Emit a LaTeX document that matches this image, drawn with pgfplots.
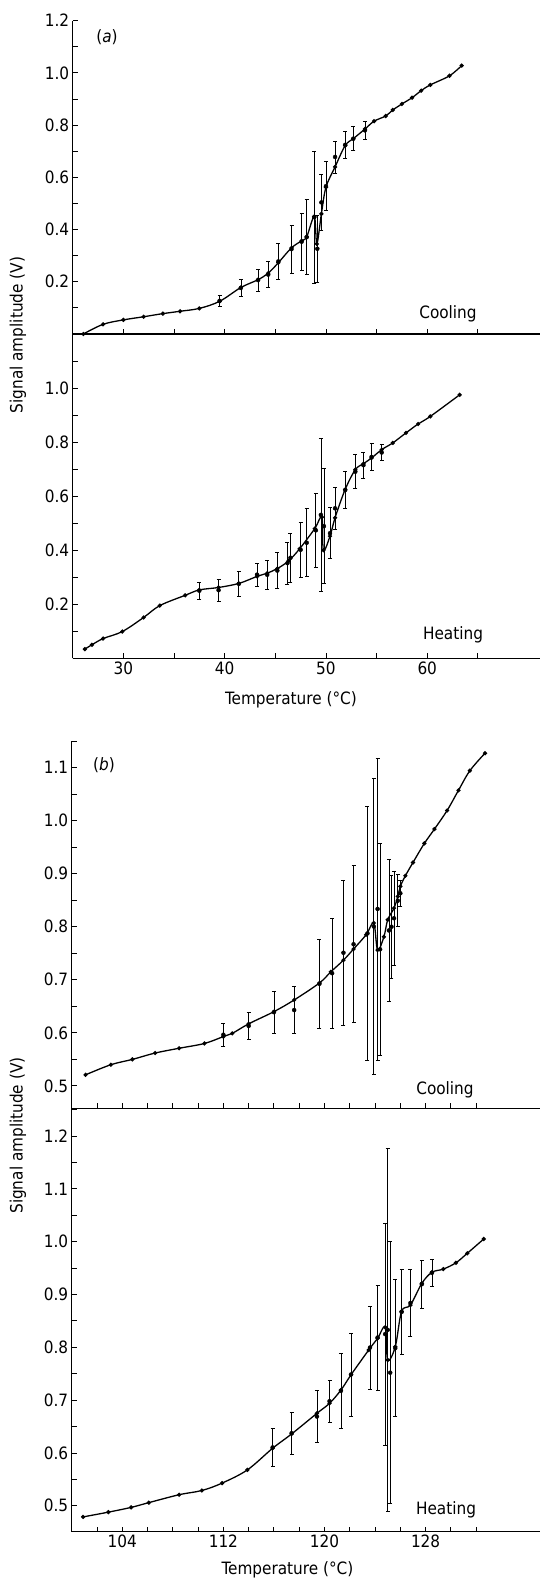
\documentclass[border=0pt]{standalone}
\usepackage{fontspec}
\setmainfont{DejaVu Sans Condensed}
\usepackage{pgfplots}
\usepackage{pgfplotstable}
\pgfplotsset{compat=1.18}

% ---------- (a) cooling ----------
\pgfplotstableread{
x y
26.05 0.0
28.0 0.037
30.0 0.054
32.0 0.066
33.9 0.078
35.6 0.087
37.5 0.098
39.5 0.125
41.6 0.178
43.3 0.208
44.3 0.233
45.3 0.273
46.6 0.33
47.6 0.357
48.1 0.372
48.85 0.45
49.1 0.345
49.55 0.46
50.0 0.562
50.9 0.64
51.9 0.722
52.7 0.748
53.85 0.785
54.75 0.815
55.9 0.835
56.6 0.858
57.5 0.881
58.5 0.905
59.4 0.932
60.3 0.954
62.2 0.989
63.4 1.028
}\acool
\pgfplotstableread{
x lo hi
39.5 0.105 0.149
41.6 0.144 0.209
43.3 0.164 0.249
44.3 0.178 0.277
45.3 0.209 0.347
46.6 0.232 0.418
47.6 0.245 0.462
48.1 0.228 0.514
48.85 0.195 0.70
49.15 0.198 0.455
49.55 0.397 0.611
50.0 0.472 0.66
50.9 0.617 0.739
51.9 0.671 0.778
52.7 0.702 0.794
53.85 0.745 0.815
}\acoolerr

% ---------- (a) heating ----------
\pgfplotstableread{
x y
26.2 0.034
26.9 0.05
28.0 0.073
29.9 0.099
32.0 0.151
33.6 0.195
36.1 0.233
37.5 0.253
39.4 0.262
41.4 0.277
43.2 0.303
44.2 0.315
45.2 0.332
46.3 0.36
47.4 0.405
48.9 0.48
49.6 0.522
49.75 0.40
50.4 0.452
50.9 0.52
51.9 0.625
52.9 0.698
53.7 0.72
54.5 0.741
55.5 0.772
56.6 0.797
57.9 0.834
59.1 0.867
60.3 0.895
63.2 0.975
}\aheat
\pgfplotstableread{
x lo hi
37.5 0.218 0.282
39.4 0.212 0.292
41.4 0.228 0.323
43.2 0.268 0.351
44.2 0.255 0.363
45.2 0.258 0.391
46.2 0.274 0.43
46.5 0.282 0.462
47.5 0.301 0.502
48.1 0.302 0.553
49.0 0.335 0.612
49.5 0.249 0.812
49.8 0.277 0.701
50.4 0.369 0.557
50.9 0.477 0.633
51.9 0.553 0.692
52.9 0.627 0.754
53.7 0.667 0.762
54.5 0.696 0.794
55.5 0.733 0.79
}\aheaterr

% ---------- (b) cooling ----------
\pgfplotstableread{
x y
101.1 0.521
103.1 0.54
104.8 0.55
106.6 0.562
108.5 0.571
110.5 0.58
112.0 0.593
112.7 0.599
114.0 0.617
116.0 0.64
117.6 0.662
119.6 0.694
120.5 0.715
121.5 0.737
122.3 0.758
123.3 0.785
123.9 0.807
124.2 0.756
124.7 0.781
125.0 0.813
125.5 0.835
125.8 0.857
126.0 0.876
126.4 0.896
127.0 0.921
127.9 0.957
128.7 0.984
129.7 1.019
130.6 1.057
131.5 1.094
132.7 1.127
}\bcool
\pgfplotstableread{
x lo hi
112.0 0.575 0.618
114.0 0.587 0.639
116.0 0.599 0.679
117.6 0.599 0.687
119.6 0.609 0.776
120.6 0.609 0.816
121.5 0.615 0.887
122.3 0.619 0.915
123.4 0.549 1.026
123.9 0.521 1.08
124.2 0.549 1.118
124.4 0.558 0.957
125.1 0.659 0.927
125.3 0.703 0.897
125.5 0.728 0.904
125.8 0.80 0.898
126.0 0.838 0.888
}\bcoolerr

% ---------- (b) heating ----------
\pgfplotstableread{
x y
100.9 0.479
102.9 0.488
104.7 0.497
106.1 0.506
108.5 0.521
110.3 0.529
111.9 0.543
113.9 0.568
115.9 0.609
117.4 0.636
119.4 0.675
120.4 0.694
121.3 0.719
122.1 0.748
123.5 0.795
124.2 0.817
124.8 0.838
125.0 0.776
125.6 0.801
126.1 0.868
126.8 0.88
127.7 0.921
128.5 0.942
129.4 0.948
130.4 0.96
131.3 0.978
132.6 1.005
}\bheat
\pgfplotstableread{
x lo hi
115.9 0.574 0.647
117.4 0.598 0.677
119.4 0.62 0.718
120.4 0.658 0.738
121.3 0.647 0.788
122.1 0.67 0.827
123.6 0.721 0.878
124.2 0.719 0.918
124.8 0.615 1.035
125.0 0.489 1.177
125.2 0.504 1.0
125.6 0.669 0.928
126.1 0.786 0.948
126.8 0.82 0.948
127.7 0.874 0.965
128.5 0.915 0.967
}\bheaterr

\pgfplotsset{
  panel/.style={
    scale only axis, clip=false,
    axis x line*=bottom, axis y line*=left,
    tick align=inside,
    major tick length=5pt, minor tick length=5pt,
    axis line style={line width=1.4pt},
    every tick/.style={black, line width=0.9pt},
    tick label style={font=\fontsize{17}{17}\selectfont},
    /pgf/number format/assume math mode=true,
    yticklabel style={/pgf/number format/.cd, fixed, fixed zerofill, precision=1},
  },
  curve/.style={black, line width=1.3pt, smooth, tension=0.55,
    mark=*, mark size=1.4pt, mark options={solid}},
  bars/.style={only marks, mark=none,
    error bars/.cd, y dir=both, y explicit,
    error bar style={line width=0.7pt, black},
    error mark options={rotate=90, mark size=2pt, line width=0.7pt, black}},
}

\begin{document}
\begin{tikzpicture}
\path[use as bounding box] (0,0) rectangle (540pt,1580pt);

% (a) cooling
\begin{axis}[panel, at={(72.7pt,1246pt)}, anchor=south west,
  width=467.3pt, height=313.3pt,
  xmin=25, xmax=71.13, ymin=0, ymax=1.2,
  xtick={30,40,50,60}, minor xtick={25,35,45,55,65}, xticklabels={},
  ytick={0.2,0.4,...,1.2}, minor ytick={0.1,0.3,...,1.1}]
  \addplot[curve] table[x=x,y=y] {\acool};
  \addplot[bars] table[x=x, y expr=(\thisrow{lo}+\thisrow{hi})/2,
    y error expr=(\thisrow{hi}-\thisrow{lo})/2] {\acoolerr};
\end{axis}

% (a) heating
\begin{axis}[panel, at={(72.7pt,921.7pt)}, anchor=south west,
  width=467.3pt, height=324.3pt,
  xmin=25, xmax=71.13, ymin=0, ymax=1.2,
  xtick={30,40,50,60}, minor xtick={25,35,45,55,65},
  xticklabel style={/pgf/number format/.cd, fixed, precision=0},
  ytick={0.2,0.4,...,1.0}, minor ytick={0.1,0.3,...,1.1}]
  \addplot[curve] table[x=x,y=y] {\aheat};
  \addplot[bars] table[x=x, y expr=(\thisrow{lo}+\thisrow{hi})/2,
    y error expr=(\thisrow{hi}-\thisrow{lo})/2] {\aheaterr};
\end{axis}

% (b) cooling
\begin{axis}[panel, at={(71.7pt,471.5pt)}, anchor=south west,
  width=468.3pt, height=367.5pt,
  xmin=100, xmax=137.05, ymin=0.4575, ymax=1.15,
  xtick={104,112,120,128},
  minor xtick={102,106,108,110,114,116,118,122,124,126,130,132},
  xticklabels={},
  ytick={0.5,0.6,...,1.15}, minor ytick={0.55,0.65,...,1.15}]
  \addplot[curve] table[x=x,y=y] {\bcool};
  \addplot[bars] table[x=x, y expr=(\thisrow{lo}+\thisrow{hi})/2,
    y error expr=(\thisrow{hi}-\thisrow{lo})/2] {\bcoolerr};
\end{axis}

% (b) heating
\begin{axis}[panel, at={(71.7pt,48.3pt)}, anchor=south west,
  width=468.3pt, height=423.2pt,
  xmin=100, xmax=137.05, ymin=0.451, ymax=1.252,
  xtick={104,112,120,128},
  minor xtick={102,106,108,110,114,116,118,122,124,126,130,132},
  xticklabel style={/pgf/number format/.cd, fixed, precision=0},
  ytick={0.5,0.6,...,1.25}, minor ytick={0.55,0.65,...,1.25}]
  \addplot[curve] table[x=x,y=y] {\bheat};
  \addplot[bars] table[x=x, y expr=(\thisrow{lo}+\thisrow{hi})/2,
    y error expr=(\thisrow{hi}-\thisrow{lo})/2] {\bheaterr};
\end{axis}

% texts
\begin{scope}[font=\fontsize{17}{17}\selectfont]
\node at (107pt,1543pt) {(\textit{a})};
\node at (104pt,815pt) {(\textit{b})};
\node at (448pt,1266pt) {Cooling};
\node at (453pt,945pt) {Heating};
\node at (445pt,490pt) {Cooling};
\node at (446pt,70pt) {Heating};
\node at (291pt,880pt) {Temperature (°C)};
\node at (287.5pt,10pt) {Temperature (°C)};
\node[rotate=90] at (18pt,1245pt) {Signal amplitude (V)};
\node[rotate=90] at (18pt,444.5pt) {Signal amplitude (V)};
\end{scope}
\end{tikzpicture}
\end{document}
